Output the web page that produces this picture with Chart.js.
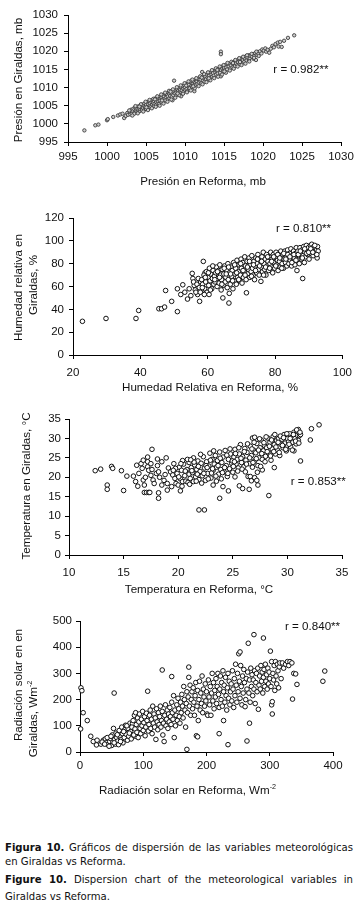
<!DOCTYPE html>
<html><head><meta charset="utf-8">
<script src="https://cdn.jsdelivr.net/npm/chart.js@4.4.1/dist/chart.umd.min.js"></script>
<style>
html,body{margin:0;padding:0;background:#fff}
body{width:359px;height:907px;position:relative;overflow:hidden}
canvas{position:absolute;left:0}
.cap{position:absolute;left:5px;width:348px;font-family:"DejaVu Sans",sans-serif;font-size:10.1px;line-height:13px;color:#111;text-align:justify;text-align-last:justify}
.cap.n{text-align:left;text-align-last:left}
</style></head>
<body>
<canvas id="c1" width="359" height="200" style="top:0"></canvas>
<canvas id="c2" width="359" height="200" style="top:200px"></canvas>
<canvas id="c3" width="359" height="200" style="top:400px"></canvas>
<canvas id="c4" width="359" height="200" style="top:600px"></canvas>
<div class="cap" style="top:841px"><b>Figura 10.</b> Gráficos de dispersión de las variables meteorológicas</div>
<div class="cap n" style="top:855px">en Giraldas vs Reforma.</div>
<div class="cap" style="top:873px"><b>Figure 10.</b> Dispersion chart of the meteorological variables in</div>
<div class="cap n" style="top:889.5px">Giraldas vs Reforma.</div>
<script>
// ---------- DATA: [Reforma, Giraldas] ----------
const presionTicks = [995,1000,1005,1010,1015,1020,1025,1030];
const presion = [
[997.1,998.2],[998.5,999.6],[998.9,999.8],[1000.0,1001.0],[1000.1,1001.3],[1000.8,1001.9],[1001.4,1002.3],[1001.7,1002.6],[1002.0,1002.8],[1002.2,1001.6],[1002.4,1002.2],
[1002.6,1003.0],[1002.7,1002.5],[1002.9,1003.4],[1003.0,1002.6],[1003.1,1003.9],[1003.2,1002.9],[1003.3,1003.5],[1003.4,1004.2],[1003.5,1003.1],[1003.5,1002.8],
[1003.6,1004.5],[1003.7,1003.6],[1003.8,1004.1],[1003.9,1003.2],[1004.0,1004.8],[1004.0,1003.9],[1004.1,1004.3],[1004.2,1003.5],[1004.3,1005.0],[1004.3,1004.0],[1004.4,1004.6],[1004.5,1003.8],[1004.5,1005.3],
[1004.6,1004.4],[1004.7,1005.0],[1004.8,1003.9],[1004.8,1005.6],[1004.9,1004.7],[1005.0,1005.2],[1005.0,1004.1],[1005.1,1005.9],[1005.2,1004.8],[1005.3,1005.4],[1005.3,1004.4],[1005.4,1006.2],[1005.5,1005.0],[1005.5,1005.7],
[1005.6,1004.6],[1005.7,1006.0],[1005.8,1005.3],[1005.8,1006.6],[1005.9,1005.8],[1006.0,1004.9],[1006.0,1006.3],[1006.1,1005.5],[1006.2,1007.0],[1006.3,1006.0],[1006.3,1005.2],[1006.4,1006.7],[1006.5,1005.7],[1006.5,1007.3],
[1006.6,1006.2],[1006.7,1005.5],[1006.8,1007.0],[1006.8,1006.4],[1006.9,1007.6],[1007.0,1006.0],[1007.0,1007.2],[1007.1,1006.7],[1007.2,1008.0],[1007.3,1006.3],[1007.3,1007.5],[1007.4,1006.9],[1007.5,1008.3],[1007.5,1006.5],
[1007.6,1007.3],[1007.7,1008.0],[1007.8,1006.8],[1007.8,1007.6],[1007.9,1008.6],[1008.0,1007.1],[1008.0,1008.2],[1008.1,1007.7],[1008.2,1009.0],[1008.3,1007.4],[1008.3,1008.4],[1008.4,1006.5],[1008.5,1008.8],[1008.5,1007.9],[1008.6,1011.9],
[1008.7,1008.4],[1008.8,1009.2],[1008.9,1007.9],[1008.9,1008.7],[1009.0,1009.6],[1009.1,1008.2],[1009.1,1009.0],[1009.2,1008.6],[1009.3,1009.9],[1009.4,1008.9],[1009.4,1009.4],[1009.5,1007.6],[1009.5,1010.1],
[1009.6,1009.2],[1009.7,1010.4],[1009.8,1008.8],[1009.8,1009.7],[1009.9,1010.7],[1010.0,1009.4],[1010.0,1010.1],[1010.1,1011.0],[1010.2,1009.6],[1010.3,1010.5],[1010.3,1009.0],[1010.4,1011.2],[1010.5,1010.0],[1010.5,1010.8],
[1010.6,1009.8],[1010.7,1011.5],[1010.8,1010.5],[1010.8,1011.9],[1010.9,1010.2],[1011.0,1011.1],[1011.1,1010.6],[1011.1,1011.8],[1011.2,1009.0],[1011.3,1011.3],[1011.4,1010.8],[1011.4,1012.2],[1011.5,1011.6],
[1011.6,1011.0],[1011.7,1012.4],[1011.8,1011.4],[1011.9,1012.8],[1012.0,1011.7],[1012.0,1012.2],[1012.1,1011.2],[1012.2,1014.3],[1012.2,1012.9],[1012.3,1012.0],[1012.4,1013.3],[1012.5,1012.5],[1012.5,1011.6],
[1012.6,1013.0],[1012.7,1012.3],[1012.8,1013.6],[1012.9,1012.8],[1013.0,1012.2],[1013.0,1013.9],[1013.1,1013.3],[1013.2,1012.7],[1013.3,1014.2],[1013.4,1013.6],[1013.5,1013.0],[1013.5,1014.5],
[1013.6,1014.0],[1013.7,1013.3],[1013.8,1014.7],[1013.9,1014.2],[1014.0,1013.6],[1014.0,1015.0],[1014.1,1014.5],[1014.2,1013.9],[1014.3,1015.2],[1014.4,1014.7],[1014.5,1014.1],[1014.5,1015.5],
[1014.6,1019.9],[1014.6,1019.2],[1014.6,1013.1],[1014.6,1014.9],[1014.7,1015.7],[1014.8,1015.2],[1014.9,1014.5],[1015.0,1016.0],[1015.0,1015.4],[1015.1,1014.8],[1015.2,1016.2],[1015.3,1015.6],[1015.4,1015.0],[1015.5,1016.4],
[1015.6,1015.8],[1015.7,1016.6],[1015.8,1015.3],[1015.9,1016.1],[1016.0,1016.9],[1016.1,1015.6],[1016.2,1016.4],[1016.3,1017.1],[1016.4,1015.9],[1016.5,1016.7],
[1016.6,1017.4],[1016.7,1016.2],[1016.8,1017.0],[1016.9,1017.7],[1017.0,1016.5],[1017.1,1017.3],[1017.2,1018.0],[1017.3,1016.8],[1017.4,1017.6],[1017.5,1018.3],
[1017.6,1017.1],[1017.7,1018.0],[1017.8,1018.6],[1017.9,1017.5],[1018.0,1018.3],[1018.2,1017.6],[1018.2,1018.9],[1018.3,1018.1],[1018.4,1018.7],
[1018.6,1018.5],[1018.7,1019.2],[1018.8,1017.9],[1018.9,1018.8],[1019.0,1019.5],[1019.1,1017.6],[1019.2,1019.0],[1019.3,1019.8],[1019.4,1019.3],
[1019.6,1020.0],[1019.8,1019.4],[1019.9,1020.5],[1020.1,1020.2],[1020.3,1020.8],[1020.4,1019.9],[1020.6,1020.4],[1020.8,1019.6],[1021.0,1020.7],[1021.2,1021.5],[1021.4,1021.1],[1021.6,1022.0],[1021.9,1022.4],[1022.0,1021.3],[1022.2,1022.6],[1022.4,1021.2],[1022.7,1022.9],[1023.2,1023.7],[1024.0,1024.4],
[1002.85,1003.7],[1003.25,1002.3],[1003.65,1004.9],[1003.95,1002.9],[1004.35,1005.4],[1004.65,1003.4],[1004.95,1006.1],[1005.25,1003.8],[1005.45,1006.6],[1005.75,1004.3],[1005.95,1006.9],[1006.25,1004.7],[1006.45,1007.6],[1006.75,1005.0],[1006.95,1008.1],[1007.25,1005.6],[1007.45,1008.6],[1007.75,1006.1],[1007.95,1009.1],[1008.25,1006.7],[1008.45,1009.5],[1008.75,1007.2],[1008.95,1010.1],[1009.25,1007.9],[1009.45,1010.6],[1009.75,1008.3],[1009.95,1011.2],[1010.25,1008.7],[1010.45,1011.7],[1010.75,1009.2],[1010.95,1012.2],[1011.25,1009.8],[1011.45,1012.6],[1011.75,1010.4],[1011.95,1013.1],[1012.25,1010.9],[1012.45,1013.7],[1012.75,1011.5],[1012.95,1014.2],[1013.25,1012.0],[1013.45,1014.8],[1013.75,1012.6],[1013.95,1015.3],[1014.25,1013.0],[1014.45,1015.8],[1014.75,1013.6],[1014.95,1016.2],[1015.25,1014.1],[1015.45,1016.8],[1015.75,1014.7],[1015.95,1017.1],[1016.25,1015.2],[1016.45,1017.6],[1016.75,1015.8],[1016.95,1018.1],[1017.25,1016.2],[1017.45,1018.5],[1017.75,1016.6],[1017.95,1018.9],[1018.25,1017.2],[1018.55,1019.3],[1018.85,1018.2],[1019.15,1019.9],[1019.45,1018.7],
[1004.15,1004.75],[1005.05,1004.55],[1006.15,1006.75],[1007.05,1006.45],[1008.15,1008.85],[1009.05,1008.35],[1010.15,1010.55],[1011.05,1010.35],[1012.15,1012.75],[1013.05,1012.55],[1014.15,1014.85],[1015.05,1014.45],[1016.15,1016.75],[1017.05,1017.05]
];

const humedadXTicks = [20,40,60,80,100];
const humedadYTicks = [0,20,40,60,80,100,120];
const humedad = [
[22.8,29.5],[29.8,32],[38.7,32],[39.5,39],[45.5,40.5],[46.3,40.5],[47.2,42],[47.5,56.5],[49.3,47],[51,38],[51,58],[52,53],[52.6,61.5],[53.2,55],[54,49],[55.4,71.5],[55.6,67],[56,61],[57,53],[57.6,47],[58.7,82],[58.7,57],[59.2,72],
[54.5,58],[55.0,52],[55.8,64],[56.3,57],[56.8,62],[57.2,67],[57.5,59],[57.9,64],[56.5,55],[57.8,55],
[58.2,66],[58.5,62],[58.9,70],[59.1,58],[59.4,64],[59.6,73],[59.8,55],[60.1,68],[60.3,61],[60.5,76],[60.7,65],[60.9,71],[61.2,58],[61.4,67],[61.6,74],[61.8,62],[62.0,69],[59.0,53],[60.4,53],
[62.2,64],[62.4,72],[62.6,77],[62.8,60],[63.0,67],[63.2,74],[63.4,63],[63.6,79],[63.8,70],[64.0,57],[64.1,66],[64.3,75],[64.5,50],[64.6,61],[64.8,71],[65.0,78],[65.2,64],[65.4,68],[65.6,74],[65.8,59],[66.0,80],[66.1,66],[66.3,45.5],[66.4,54],[66.5,72],
[66.7,62],[66.9,77],[67.1,69],[67.3,74],[67.5,58],[67.7,81],[67.9,65],[68.1,71],[68.3,76],[68.5,62],[68.7,83],[68.9,68],[69.1,73],[69.3,79],[69.5,65],[69.7,70],[69.9,84],[70.0,76],[70.2,63],[70.4,81],
[70.6,68],[70.8,73],[71.0,86],[71.2,78],[71.4,66],[71.5,54.5],[71.7,82],[71.9,71],[72.1,75],[72.3,85],[72.5,68],[72.7,79],[72.9,73],[73.1,87],[73.3,76],[73.5,70],[73.7,82],[73.9,66],[74.1,78],[74.3,85],
[74.5,72],[74.7,80],[74.9,88],[75.1,75],[75.3,70],[75.5,83],[75.8,64.5],[75.9,77],[76.1,86],[76.3,73],[76.5,90],[76.7,80],[76.9,75],[77.1,84],[77.3,70],[77.5,88],[77.7,78],[77.9,82],[78.1,74],[78.3,86],
[78.5,80],[78.7,90],[78.9,77],[79.1,84],[79.3,72],[79.5,88],[79.7,81],[79.9,76],[80.1,86],[80.3,90],[80.5,79],[80.7,83],[80.9,74],[81.1,88],[81.3,82],[81.5,77],[81.7,91],[81.9,85],[82.1,80],[82.3,88],
[82.5,76],[82.7,84],[82.9,91],[83.1,81],[83.3,87],[83.5,78],[83.7,92],[83.9,85],[84.1,80],[84.3,89],[84.5,83],[84.7,93],[84.9,78],[85.1,87],[85.3,82],[85.5,91],[85.7,85],[85.9,79],[86.1,89],[86.3,94],
[86.5,74],[86.6,84],[86.8,91],[87.0,87],[87.2,80],[87.4,94],[87.6,89],[87.8,84],[88.0,92],[88.2,67],[88.3,87],[88.5,95],[88.7,81],[88.9,90],[89.1,86],[89.3,96],[89.5,92],[89.7,88],[89.9,94],[90.1,84],
[90.3,91],[90.5,96],[90.7,89],[90.9,97],[91.1,93],[91.3,87],[91.5,95],[91.7,91],[91.9,94],[92.1,89],[92.3,92],[92.5,85],[92.6,95],[92.8,91],
[58.4,59],[59.3,68],[60.2,72],[60.8,57],[61.5,78],[62.1,66],[62.9,73],[63.5,68],[64.2,62],[64.9,76],[65.5,71],[66.2,77],[66.8,71],[67.4,65],[68.0,79],[68.6,72],[69.2,66],[69.8,80],[70.5,74],[71.1,70],[71.8,77],[72.4,82],[73.0,69],[73.6,79],[74.2,74],[74.8,84],[75.4,78],[76.0,82],[76.6,70],[77.2,77],[77.8,86],[78.4,76],[79.0,82],[79.6,86],[80.2,78],[80.8,88],[81.4,85],[82.0,76],[82.6,89],[83.2,84],[83.8,88],[84.4,86],[85.0,81],[85.6,88],[86.2,83],[86.9,88],[87.5,91],[88.1,85],[88.8,93],[89.4,89],[90.0,90],[90.6,93],[91.2,90],[91.8,96],[92.4,88]
];

const tempTicksX = [10,15,20,25,30,35];
const tempTicksY = [0,5,10,15,20,25,30,35];
const temperatura = [
[12.4,21.7],[12.9,22.1],[13.5,18.0],[13.5,16.9],[13.9,22.8],[14.0,22.3],[14.8,21.7],[15.0,16.6],[15.3,20.3],[15.9,20.3],[16.1,18.9],[16.2,23.1],[16.3,17.7],[16.6,23.5],[16.7,22.3],[16.8,24.4],[16.8,19.3],[16.9,18.0],[16.9,16.1],[17.1,16.1],[17.2,25.2],[17.2,24.0],[17.2,22.7],[17.3,21.8],[17.3,16.1],[17.4,16.1],[17.5,20.5],[17.6,27.2],[17.7,19.3],[17.8,18.4],[17.5,23.5],[17.6,22.0],[18.0,21.0],[18.1,24.7],[18.1,23.0],[18.2,16.0],[18.2,14.6],[18.2,21.4],[18.3,20.0],[18.5,18.0],[18.5,24.0],[18.7,19.2],[18.9,25.0],[19.0,16.7],[19.0,18.4],[19.1,22.4],[19.3,21.4],[19.5,20.6],[19.6,23.5],[19.7,19.7],[19.8,18.4],[19.4,17.6],[18.8,20.7],[16.4,21.0],[17.0,20.0],
[19.9,21.0],[20.0,18.0],[20.1,22.6],[20.2,16.5],[20.2,19.6],[20.3,21.8],[20.4,18.9],[20.5,23.4],[20.6,20.4],[20.7,19.0],[20.8,22.0],[20.9,18.7],[21.0,23.8],[21.0,20.8],[20.4,24.3],
[21.1,19.7],[21.2,22.5],[21.3,21.2],[21.4,25.0],[21.4,18.9],[21.5,23.2],[21.6,20.1],[21.7,22.0],[21.8,24.2],[21.9,11.6],[21.9,19.4],[22.0,21.5],[22.1,23.6],[22.2,20.4],[22.3,25.3],[22.4,11.6],[22.4,22.4],[22.5,19.2],
[22.6,24.0],[22.7,21.0],[22.8,22.9],[22.9,26.2],[23.0,19.8],[23.1,24.6],[23.2,18.0],[23.2,21.8],[23.3,23.4],[23.4,25.6],[23.5,19.0],[23.5,22.6],[23.6,24.3],[23.7,20.8],[23.8,14.6],[23.8,26.5],[23.9,22.0],[24.0,23.8],
[24.1,17.6],[24.1,25.2],[24.2,21.4],[24.3,26.9],[24.4,23.0],[24.5,20.2],[24.6,16.5],[24.6,24.6],[24.7,22.2],[24.8,26.0],[24.9,23.6],[25.0,21.3],[25.1,25.2],[25.2,20.1],[25.2,27.2],[25.3,23.4],[25.4,24.6],[25.5,22.4],
[25.6,17.8],[25.6,26.0],[25.7,28.4],[25.8,23.8],[25.9,17.1],[25.9,25.3],[26.0,22.7],[26.1,27.4],[26.2,24.4],[26.3,26.4],[26.4,20.2],[26.5,16.9],[26.5,23.5],[26.6,20.2],[26.6,28.0],[26.7,19.1],[26.7,25.6],[26.8,22.6],[26.9,27.0],[27.0,19.9],[27.0,24.2],[26.8,30.1],[27.0,30.3],
[27.1,26.3],[27.2,19.2],[27.2,28.7],[27.3,18.0],[27.3,23.0],[27.4,25.0],[27.5,27.6],[27.6,29.6],[27.7,21.9],[27.7,24.6],[27.8,26.8],[27.9,28.2],[28.0,25.4],[28.1,27.6],[28.2,30.1],[28.3,15.3],[28.3,26.2],[28.4,29.0],[28.5,24.4],
[28.6,27.3],[28.7,30.5],[28.8,22.5],[28.8,28.4],[28.9,26.0],[29.0,29.4],[29.1,27.0],[29.2,30.0],[29.3,25.6],[29.4,28.5],[29.5,29.8],[29.6,27.6],[29.7,31.0],[29.8,28.8],[29.9,26.8],[30.0,30.0],[30.0,28.0],
[30.1,29.1],[30.2,31.2],[30.3,27.8],[30.4,30.3],[30.5,29.0],[30.6,26.8],[30.6,31.6],[30.7,30.0],[30.8,28.6],[30.9,31.9],[30.9,30.8],[31.0,29.5],[31.0,32.3],[31.1,30.7],[31.2,24.2],[31.2,31.0],
[32.1,29.6],[32.2,32.5],[32.9,33.5],
[19.75,22.3],[20.05,20.1],[20.35,17.7],[20.65,21.6],[20.85,24.6],[21.05,18.2],[21.25,21.7],[21.45,23.9],[21.65,19.0],[21.85,22.8],[22.05,25.9],[22.15,18.5],[22.35,21.0],[22.55,23.0],[22.75,19.6],[22.95,24.4],[23.05,21.1],[23.25,26.8],[23.45,20.3],[23.65,23.0],[23.85,24.9],[23.95,19.6],[24.25,22.5],[24.45,25.7],[24.55,21.0],[24.75,27.3],[24.95,24.2],[25.05,22.8],[25.25,26.1],[25.45,21.6],[25.55,27.6],[25.75,24.9],[25.85,22.1],[26.05,26.6],[26.25,23.4],[26.35,28.6],[26.55,25.0],[26.75,27.3],[26.85,23.8],[26.95,29.0],[27.15,24.8],[27.35,27.0],[27.45,29.9],[27.55,22.8],[27.65,26.1],[27.85,28.9],[27.95,24.0],[28.05,30.4],[28.15,26.6],[28.35,28.0],[28.45,25.5],[28.55,29.6],[28.75,26.6],[28.85,31.0],[28.95,27.8],[29.15,29.0],[29.25,26.4],[29.35,30.6],[29.55,28.2],[29.65,30.2],[29.85,27.2],[29.95,31.2],[30.15,28.5],[30.25,30.0],[30.45,27.0],[30.55,31.0],[30.75,29.3],[30.85,32.2],[31.05,28.8],[31.15,31.6],
[19.55,21.8],[20.25,23.5],[21.15,24.5],[21.75,20.8],[22.65,22.5],[23.15,22.2],[24.05,21.2],[25.15,24.0],[26.15,21.4],[27.25,21.3]
];

const radTicksX = [0,100,200,300,400];
const radTicksY = [0,100,200,300,400,500];
const radiacion = [
[1.5,245],[3,234],[5,150],[1,88],[11.5,120],[17,60],[21,40],[26,27],[27,45],[54,225],
[33,30],[37,45],[40,50],[42,35],[44,28],[47,40],[48,52],[50,25],[51,65],[52,38],[53,90],[55,48],[56,30],[57,72],[58,55],[60,42],[61,28],[62,82],[63,60],[65,48],[66,95],[67,70],[68,35],[70,55],[71,85],[72,102],[73,68],[75,45],[76,90],[77,60],[79,110],[80,78],[81,50],
[35,38],[39,30],[43,55],[46,22],[49,60],[54,35],[59,66],[64,40],[69,78],[74,100],[78,72],[83,108],[88,60],
[82,95],[84,120],[85,65],[86,140],[87,88],[88,150],[89,105],[90,75],[91,130],[92,55],[93,115],[94,145],[95,90],[96,70],[97,125],[98,100],[99,155],[100,82],[101,112],[102,135],[103,62],[104,95],[105,148],[106,120],[107,232],[108,80],[109,105],[110,140],[111,160],[112,90],[113,125],[114,70],[115,175],[116,110],[117,145],[118,95],[119,130],[120,48],[121,165],[122,115],[123,85],[124,150],[125,105],[126,135],[127,175],[128,95],[129,120],[130,313],[130,155],[131,65],[132,110],[133,40],[134,140],[135,180],[136,100],[137,125],[138,160],[139,90],[140,145],[141,115],[142,170],[143,135],[144,105],[145,288],[145,190],[146,150],[147,125],[148,215],[149,55],[150,160],[151,100],[152,140],[153,180],[154,120],[155,205],[156,165],[157,135],[158,110],[159,190],[160,150],
[161,220],[162,175],[163,130],[164,250],[165,200],[166,160],[167,95],[168,185],[169,10],[169,230],[170,150],[171,210],[172,324],[172,285],[173,175],[174,255],[175,140],[176,200],[177,230],[178,165],[179,245],[180,190],[181,140],[182,215],[183,265],[184,62],[185,175],[186,58],[186,235],[187,120],[188,200],[189,270],[190,160],[191,225],[192,185],[193,290],[194,150],[195,240],[196,210],[197,175],[198,260],[199,195],[200,230],[201,145],[202,140],[203,275],[204,210],[205,180],[206,250],[207,140],[208,225],[209,300],[210,195],[211,265],[212,165],[213,235],[214,210],[215,280],[216,185],[217,250],[218,300],[219,220],[220,70],[220,170],
[221,240],[222,290],[223,200],[224,265],[225,175],[226,310],[227,120],[227,230],[228,255],[229,190],[230,285],[231,215],[232,160],[233,245],[234,28],[234,300],[235,205],[236,270],[237,180],[238,230],[239,260],[240,195],[241,310],[242,240],[243,170],[244,280],[245,215],[246,335],[247,255],[248,190],[249,300],[250,230],[251,375],[252,270],[253,382],[253,205],[254,330],[255,250],[256,180],[257,290],[258,225],[259,315],[260,265],[261,173],[262,200],[263,280],[264,42],[264,240],[265,305],[266,415],[267,225],[268,110],[268,275],[269,190],[270,320],[271,250],[272,295],[273,215],[274,275],[275,448],[275,240],[276,310],[277,185],[278,265],[279,300],[280,230],
[281,320],[282,163],[283,255],[284,290],[285,240],[286,330],[287,270],[288,305],[289,225],[290,435],[290,285],[291,315],[292,250],[293,335],[294,270],[295,295],[296,240],[297,320],[298,260],[299,305],[300,280],[301,385],[302,250],[303,345],[303,180],[304,192],[304,145],[305,300],[306,275],[307,330],[308,235],[309,345],[310,290],[311,260],[312,335],[313,310],[314,245],[315,325],[316,340],[318,280],[320,340],[322,320],[325,335],[328,345],[330,330],[332,345],[335,340],[336,202],[338,300],[341,298],[343,258],[384,270],[387,309]
];

// ---------- TEXT ----------
const FONT = '"Liberation Sans", Arial, sans-serif';
const texts = {
  c1: [
    {parts:[{t:'Presión en Reforma, mb'}], x:203, y:181.7},
    {parts:[{t:'Presión en Giraldas, mb'}], x:18.3, y:80, rot:true},
    {parts:[{t:'r = 0.982**'}], x:273.3, y:70, left:true}
  ],
  c2: [
    {parts:[{t:'Humedad Relativa en Reforma, %'}], x:210, y:188},
    {parts:[{t:'Humedad relativa en'}], x:18.5, y:87.5, rot:true},
    {parts:[{t:'Giraldas, %'}], x:33.3, y:85, rot:true},
    {parts:[{t:'r = 0.810**'}], x:276, y:29, left:true}
  ],
  c3: [
    {parts:[{t:'Temperatura en Reforma, °C'}], x:199, y:189.5},
    {parts:[{t:'Temperatura en Giraldas, °C'}], x:26.7, y:86, rot:true},
    {parts:[{t:'r = 0.853**'}], x:290.7, y:81.5, left:true}
  ],
  c4: [
    {parts:[{t:'Radiación solar en Reforma, Wm'},{t:'-2',sup:true}], x:187.5, y:191},
    {parts:[{t:'Radiación solar en en'}], x:19, y:85, rot:true},
    {parts:[{t:'Giraldas, Wm'},{t:'-2',sup:true}], x:34, y:119, rot:true},
    {parts:[{t:'r = 0.840**'}], x:285, y:27, left:true}
  ]
};

const textPlugin = {
  id: 'chartTexts',
  afterDraw(chart) {
    const items = texts[chart.canvas.id] || [];
    const ctx = chart.ctx;
    const f = 11.6;
    items.forEach(it => {
      ctx.save();
      ctx.translate(it.x, it.y);
      if (it.rot) ctx.rotate(-Math.PI / 2);
      let w = 0;
      const ws = it.parts.map(p => {
        ctx.font = (p.sup ? f * 0.62 : f) + 'px ' + FONT;
        const m = ctx.measureText(p.t).width; w += m; return m;
      });
      let x0 = it.left ? 0 : -w / 2;
      ctx.fillStyle = '#111';
      ctx.textBaseline = 'middle';
      ctx.textAlign = 'left';
      it.parts.forEach((p, i) => {
        ctx.font = (p.sup ? f * 0.62 : f) + 'px ' + FONT;
        ctx.fillText(p.t, x0, p.sup ? -f * 0.32 : 0);
        x0 += ws[i];
      });
      ctx.restore();
    });
  }
};

function makeChart(id, pts, xt, yt, lay, style) {
  const tickFont = {family: FONT, size: 11.5};
  const plain = v => String(v);
  new Chart(document.getElementById(id), {
    type: 'scatter',
    data: {datasets: [{
      data: pts.map(p => ({x: p[0], y: p[1]})),
      pointRadius: style.r, pointHoverRadius: style.r,
      borderWidth: style.bw, borderColor: style.bc, backgroundColor: style.bg,
      clip: false
    }]},
    options: {
      responsive: false, animation: false, events: [],
      layout: {padding: {left: 0, top: lay.top, right: lay.right, bottom: 0}},
      plugins: {legend: {display: false}, tooltip: {enabled: false}},
      scales: {
        x: {
          type: 'linear', min: xt[0], max: xt[xt.length - 1],
          ticks: {stepSize: xt[1] - xt[0], font: tickFont, color: '#111', padding: lay.xpad, maxRotation: 0, autoSkip: false, callback: plain},
          grid: {drawOnChartArea: false, drawTicks: true, tickLength: 4, color: '#000', lineWidth: 1},
          border: {display: true, color: '#000', width: 1},
          afterFit: s => { s.height = lay.xh; }
        },
        y: {
          type: 'linear', min: yt[0], max: yt[yt.length - 1],
          ticks: {stepSize: yt[1] - yt[0], font: tickFont, color: '#111', padding: lay.ypad, autoSkip: false, callback: plain},
          grid: {drawOnChartArea: false, drawTicks: true, tickLength: 4, color: '#000', lineWidth: 1},
          border: {display: true, color: '#000', width: 1},
          afterFit: s => { s.width = lay.left; }
        }
      }
    },
    plugins: [textPlugin]
  });
}

const small = {r: 1.7, bw: 0.9, bc: '#3c3c3c', bg: '#cfcfcf'};
const open = {r: 2.3, bw: 1, bc: '#111', bg: '#fff'};

makeChart('c1', presion, presionTicks, presionTicks, {left: 68, right: 18, top: 15, xh: 58, xpad: 4, ypad: 6}, small);
makeChart('c2', humedad, humedadXTicks, humedadYTicks, {left: 73, right: 13, top: 18, xh: 45, xpad: 7, ypad: 5}, open);
makeChart('c3', temperatura, tempTicksX, tempTicksY, {left: 69, right: 17, top: 19, xh: 45, xpad: 6.5, ypad: 4}, open);
makeChart('c4', radiacion, radTicksX, radTicksY, {left: 80, right: 26, top: 21, xh: 48, xpad: 3, ypad: 4}, open);
</script>
</body></html>
